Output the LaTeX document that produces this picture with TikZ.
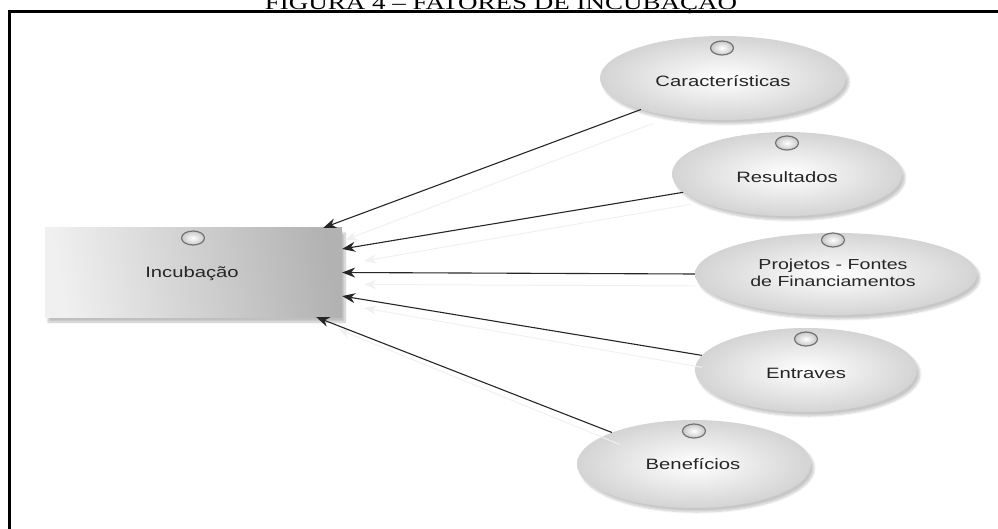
\documentclass[tikz,border=0pt]{standalone}
\usepackage{fontspec}
\setmainfont{Liberation Sans}
\newfontfamily\titlefont{Liberation Serif}
\usetikzlibrary{arrows.meta,shapes.geometric,shadows.blur,calc}
\newcommand{\widetxt}[1]{\scalebox{1.35}[1]{#1}}
\tikzset{
  usecase/.style={ellipse, inner sep=0pt, draw=none, shading=radial,
    inner color=white, outer color=black!17,
    blur shadow={shadow xshift=3pt, shadow yshift=-4pt, shadow blur steps=10, shadow opacity=22},
    font=\fontsize{15}{17}\selectfont, text=black!85},
  bigbox/.style={rectangle, inner sep=0pt, draw=none, shading=axis,
    left color=black!6, right color=black!30, shading angle=100,
    blur shadow={shadow xshift=3pt, shadow yshift=-5pt, shadow blur steps=10, shadow opacity=25},
    font=\fontsize{15}{17}\selectfont, text=black!85},
  lbl/.style={font=\fontsize{15}{17}\selectfont, text=black!85},
  icon/.style={ellipse, minimum width=23pt, minimum height=14pt, inner sep=0pt,
    draw=black!55, line width=1.2pt, shading=radial, inner color=white, outer color=black!22},
  conn/.style={draw=black!85, line width=1.1pt, -{Stealth[length=13pt,width=10pt]}},
  ghost/.style={draw=black!6, line width=1pt, -{Stealth[length=12pt,width=9pt]}},
  frame/.style={line width=2.6pt, black}
}
\begin{document}
\begin{tikzpicture}[x=1pt,y=-1pt]
\useasboundingbox (0,0) rectangle (998,529);
\begin{scope}
\clip (0,0) rectangle (998,529);
\node[font=\titlefont\fontsize{20}{20}\selectfont, anchor=base] (title) at (501,9.5) {\widetxt{FIGURA 4 – FATORES DE INCUBAÇÃO}};
\end{scope}
\draw[frame] (9.5,529) -- (9.5,11.5) -- (998,11.5);

\node[bigbox, minimum width=297pt, minimum height=89pt] (inc) at (193.5,272.5) {};
\node[lbl] (inctext) at (192,274) {\widetxt{Incubação}};
\node[icon] (iconinc) at (193,238) {};

\node[usecase, minimum width=246pt, minimum height=84pt] (car) at (723,78) {};
\node[lbl] (cartext) at (723,81) {\widetxt{Características}};
\node[icon] (iconcar) at (722,48) {};

\node[usecase, minimum width=230pt, minimum height=84pt] (res) at (787,174) {};
\node[lbl] (restext) at (787,177) {\widetxt{Resultados}};
\node[icon] (iconres) at (787,143) {};

\node[usecase, minimum width=282pt, minimum height=82pt] (pro) at (836,274) {};
\node[align=center, font=\fontsize{14.5}{16.5}\selectfont, text=black!85] (protext) at (833,273) {\widetxt{Projetos - Fontes}\\\widetxt{de Financiamentos}};
\node[icon] (iconpro) at (833,240) {};

\node[usecase, minimum width=222pt, minimum height=84pt] (ent) at (806,370) {};
\node[lbl] (enttext) at (806,373) {\widetxt{Entraves}};
\node[icon] (iconent) at (806,339) {};

\node[usecase, minimum width=234pt, minimum height=88pt] (ben) at (694,464) {};
\node[lbl] (bentext) at (693,464) {\widetxt{Benefícios}};
\node[icon] (iconben) at (694,431) {};

% faint reflections
\draw[ghost] ($(car.201)+(12,14)$) -- ($(inc.19)+(22,12)$);
\draw[ghost] ($(res.190)+(8,12)$) -- ($(inc.9.7)+(22,12)$);
\draw[ghost] ($(pro.180)+(0,12)$) -- ($(inc.0)+(22,12)$);
\draw[ghost] ($(ent.172)+(0,12)$) -- ($(inc.-9.7)+(22,12)$);
\draw[ghost] ($(ben.159)+(8,12)$) -- ($(inc.-20.1)+(22,12)$);

% connectors
\draw[conn] (car.201) -- (inc.19);
\draw[conn] (res.190) -- (inc.9.7);
\draw[conn] (pro.180) -- (inc.0);
\draw[conn] (ent.172) -- (inc.-9.7);
\draw[conn] (ben.159) -- (inc.-20.1);
\end{tikzpicture}
\end{document}
